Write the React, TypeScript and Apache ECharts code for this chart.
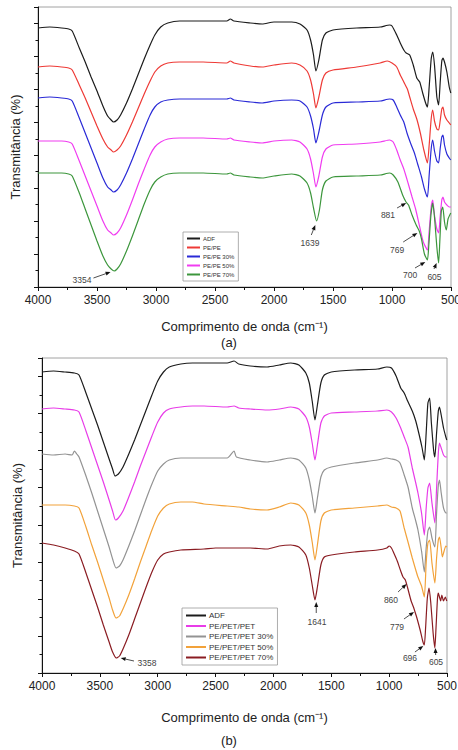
import React, { useEffect, useRef } from "react";
import * as echarts from "echarts";

type P = [number, number];

// ---------- Panel (a): transmittance (arbitrary units, offset curves) ----------
const adfA: P[] = [
  [4000, 259], [3900, 260], [3800, 259], [3740, 258], [3710, 256], [3650, 239], [3600, 225], [3550, 210],
  [3500, 196], [3450, 181], [3410, 171], [3380, 167], [3360, 165], [3330, 167], [3300, 172], [3250, 184],
  [3200, 198], [3150, 213], [3100, 228], [3050, 242], [3010, 252], [2960, 260], [2900, 264], [2800, 266],
  [2600, 266], [2400, 266], [2370, 268], [2340, 266], [2200, 264], [2100, 263], [2000, 265], [1850, 265],
  [1780, 263], [1720, 257], [1690, 247], [1665, 232], [1645, 216], [1620, 227], [1590, 247], [1560, 254],
  [1500, 257], [1300, 259], [1100, 260], [1020, 262], [1000, 261], [960, 252], [930, 244], [900, 237],
  [880, 234], [850, 232], [820, 222], [790, 209], [765, 205], [740, 194], [715, 184], [700, 180], [685, 200],
  [668, 228], [655, 235], [640, 222], [620, 190], [605, 182], [592, 204], [578, 226], [568, 229], [555, 225],
  [535, 215], [515, 200], [502, 194],
];
const pePeA: P[] = [
  [4000, 220], [3900, 221], [3800, 220], [3740, 219], [3710, 217], [3650, 202], [3600, 189], [3550, 175],
  [3500, 161], [3450, 148], [3410, 140], [3380, 137], [3360, 135], [3330, 137], [3300, 141], [3250, 152],
  [3200, 165], [3150, 179], [3100, 193], [3050, 206], [3010, 215], [2960, 221], [2900, 224], [2800, 225],
  [2600, 225], [2400, 224], [2370, 226], [2340, 224], [2200, 221], [2100, 220], [2000, 222], [1850, 224],
  [1780, 222], [1720, 216], [1690, 207], [1665, 193], [1645, 179], [1620, 190], [1590, 207], [1560, 214],
  [1500, 217], [1300, 220], [1100, 224], [1040, 226], [1000, 224], [960, 220], [930, 212], [900, 205],
  [870, 198], [850, 190], [820, 178], [790, 168], [760, 154], [730, 137], [700, 124], [685, 142], [668, 168],
  [655, 177], [640, 166], [620, 158], [605, 157], [592, 166], [578, 178], [568, 180], [555, 172], [535, 167],
  [515, 164], [502, 162],
];
const pePe30A: P[] = [
  [4000, 189], [3900, 190], [3800, 189], [3740, 188], [3710, 186], [3650, 169], [3600, 154], [3550, 139],
  [3500, 124], [3450, 109], [3410, 100], [3380, 97], [3360, 95], [3330, 97], [3300, 102], [3250, 114],
  [3200, 128], [3150, 143], [3100, 158], [3050, 172], [3010, 180], [2960, 185], [2900, 187], [2800, 188],
  [2600, 188], [2400, 188], [2370, 189], [2340, 187], [2200, 185], [2100, 184], [2000, 186], [1850, 187],
  [1780, 186], [1720, 180], [1690, 171], [1665, 158], [1645, 144], [1620, 155], [1590, 172], [1560, 180],
  [1500, 184], [1300, 185], [1100, 186], [1020, 188], [990, 187], [960, 180], [930, 172], [900, 165],
  [873, 154], [840, 143], [810, 134], [780, 122], [750, 110], [725, 98], [700, 90], [685, 112], [668, 138],
  [655, 147], [640, 136], [620, 126], [605, 124], [592, 138], [578, 150], [568, 152], [555, 142], [535, 133],
  [515, 129], [502, 127],
];
const pePe50A: P[] = [
  [4000, 146], [3900, 146], [3800, 146], [3740, 145], [3710, 143], [3650, 126], [3600, 111], [3550, 96],
  [3500, 81], [3450, 66], [3410, 57], [3380, 54], [3360, 52], [3330, 54], [3300, 59], [3250, 72],
  [3200, 87], [3150, 103], [3100, 118], [3050, 132], [3010, 140], [2960, 145], [2900, 148], [2800, 149],
  [2600, 149], [2400, 148], [2370, 149], [2340, 147], [2200, 145], [2100, 144], [2000, 146], [1850, 147],
  [1780, 145], [1720, 138], [1690, 128], [1665, 113], [1645, 100], [1620, 111], [1590, 130], [1560, 138],
  [1500, 142], [1300, 143], [1100, 145], [1020, 147], [990, 145], [960, 137], [930, 127], [900, 118],
  [864, 104], [830, 90], [800, 78], [765, 60], [735, 45], [700, 37], [685, 56], [668, 80], [655, 87],
  [640, 72], [620, 58], [605, 54], [592, 70], [578, 87], [568, 90], [555, 85], [535, 82], [515, 80], [502, 80],
];
const pePe70A: P[] = [
  [4000, 114], [3900, 114], [3800, 114], [3740, 113], [3710, 111], [3650, 94], [3600, 78], [3550, 62],
  [3500, 46], [3450, 31], [3410, 22], [3380, 18], [3354, 16], [3330, 18], [3300, 23], [3250, 36],
  [3200, 51], [3150, 67], [3100, 83], [3050, 97], [3010, 105], [2960, 110], [2900, 113], [2800, 114],
  [2600, 114], [2400, 113], [2370, 114], [2340, 112], [2200, 110], [2100, 109], [2000, 111], [1850, 113],
  [1780, 111], [1720, 104], [1690, 94], [1665, 79], [1639, 66], [1615, 77], [1590, 97], [1560, 106],
  [1500, 110], [1300, 111], [1100, 112], [1020, 114], [990, 112], [950, 105], [910, 92], [881, 85],
  [860, 82], [830, 72], [795, 62], [769, 56], [750, 48], [725, 33], [700, 27], [688, 42], [670, 72],
  [655, 84], [640, 70], [620, 40], [605, 24], [595, 45], [582, 76], [570, 80], [555, 65], [540, 57],
  [525, 68], [502, 74],
];

// ---------- Panel (b) ----------
const adfB: P[] = [
  [4000, 301], [3900, 302], [3800, 301], [3720, 300], [3680, 298], [3620, 280], [3570, 264], [3520, 248],
  [3470, 231], [3420, 214], [3390, 204], [3369, 197], [3340, 199], [3300, 206], [3250, 219], [3200, 233],
  [3150, 248], [3100, 263], [3050, 278], [3000, 292], [2950, 301], [2900, 306], [2800, 309], [2700, 310],
  [2600, 310], [2400, 310], [2340, 312], [2300, 309], [2200, 307], [2055, 306], [1950, 308], [1850, 310],
  [1780, 308], [1720, 300], [1690, 290], [1665, 272], [1641, 253], [1620, 268], [1590, 290], [1560, 298],
  [1500, 301], [1300, 303], [1100, 304], [1020, 306], [980, 305], [940, 297], [900, 285], [870, 280],
  [840, 272], [800, 262], [770, 252], [740, 238], [715, 225], [696, 213], [680, 240], [665, 270], [650, 275],
  [635, 250], [615, 222], [605, 216], [590, 240], [575, 262], [565, 266], [550, 258], [530, 245], [510, 236],
  [502, 233],
];
const petB: P[] = [
  [4000, 264], [3900, 265], [3800, 264], [3720, 263], [3680, 261], [3620, 242], [3570, 225], [3520, 208],
  [3470, 191], [3420, 173], [3390, 162], [3365, 153], [3340, 155], [3300, 162], [3250, 176], [3200, 191],
  [3150, 207], [3100, 222], [3050, 237], [3000, 251], [2950, 260], [2900, 264], [2800, 266], [2700, 267],
  [2600, 267], [2400, 266], [2340, 267], [2300, 265], [2200, 264], [2055, 263], [1950, 264], [1850, 266],
  [1780, 264], [1720, 256], [1690, 246], [1665, 230], [1641, 213], [1620, 228], [1590, 250], [1560, 257],
  [1500, 260], [1300, 261], [1100, 262], [1020, 263], [980, 261], [940, 255], [900, 245], [870, 236],
  [837, 226], [800, 205], [770, 190], [751, 180], [720, 160], [696, 138], [680, 165], [665, 185], [650, 190],
  [630, 170], [605, 150], [590, 185], [575, 220], [565, 230], [550, 225], [530, 218], [510, 216], [502, 216],
];
const pet30B: P[] = [
  [4000, 219], [3900, 218], [3800, 219], [3740, 218], [3720, 222], [3700, 219], [3680, 216], [3620, 197],
  [3570, 180], [3520, 162], [3470, 144], [3420, 126], [3390, 114], [3360, 105], [3330, 107], [3300, 113],
  [3250, 127], [3200, 142], [3150, 158], [3100, 174], [3050, 189], [3000, 202], [2950, 209], [2900, 213],
  [2800, 215], [2600, 215], [2400, 215], [2340, 222], [2320, 216], [2200, 213], [2055, 211], [1950, 213],
  [1850, 215], [1780, 213], [1720, 205], [1690, 193], [1665, 177], [1641, 160], [1620, 175], [1590, 196],
  [1560, 203], [1500, 206], [1300, 210], [1100, 213], [1020, 215], [980, 214], [940, 213], [906, 210],
  [870, 198], [837, 186], [800, 165], [770, 152], [751, 143], [720, 122], [696, 101], [680, 125], [665, 142],
  [650, 146], [630, 135], [605, 126], [590, 160], [575, 188], [565, 193], [550, 180], [530, 165], [510, 160],
  [502, 160],
];
const pet50B: P[] = [
  [4000, 168], [3900, 168], [3800, 168], [3720, 167], [3680, 165], [3620, 146], [3570, 128], [3520, 111],
  [3470, 93], [3420, 75], [3390, 63], [3360, 55], [3330, 57], [3300, 64], [3250, 78], [3200, 94],
  [3150, 111], [3100, 127], [3050, 143], [3000, 157], [2950, 165], [2900, 169], [2800, 171], [2700, 171],
  [2600, 169], [2400, 167], [2300, 166], [2200, 164], [2055, 163], [1950, 166], [1850, 170], [1780, 168],
  [1720, 160], [1690, 148], [1665, 131], [1641, 113], [1620, 128], [1590, 152], [1560, 160], [1500, 163],
  [1300, 165], [1100, 167], [1020, 168], [980, 166], [940, 165], [906, 162], [870, 145], [837, 131],
  [800, 115], [770, 103], [751, 96], [720, 87], [696, 76], [680, 110], [665, 130], [650, 133], [630, 110],
  [605, 90], [590, 115], [575, 133], [565, 136], [550, 125], [540, 116], [525, 122], [510, 127], [502, 126],
];
const pet70B: P[] = [
  [4000, 130], [3900, 128], [3800, 125], [3720, 122], [3680, 119], [3620, 100], [3570, 83], [3520, 66],
  [3470, 48], [3420, 31], [3390, 21], [3358, 15], [3330, 17], [3300, 24], [3250, 38], [3200, 54],
  [3150, 70], [3100, 86], [3050, 101], [3000, 113], [2950, 119], [2900, 121], [2800, 123], [2600, 124],
  [2500, 125], [2300, 125], [2200, 125], [2055, 124], [1950, 127], [1850, 128], [1780, 126], [1720, 118],
  [1690, 105], [1665, 88], [1641, 73], [1620, 86], [1590, 108], [1560, 116], [1500, 118], [1300, 121],
  [1100, 123], [1020, 125], [1000, 127], [980, 125], [960, 120], [930, 112], [900, 102], [880, 96],
  [860, 93], [840, 85], [810, 72], [790, 66], [779, 62], [760, 55], [730, 42], [710, 32], [696, 28],
  [685, 45], [670, 75], [655, 85], [640, 70], [620, 40], [605, 25], [595, 45], [582, 75], [575, 80],
  [565, 76], [555, 72], [545, 78], [530, 72], [515, 76], [502, 72],
];

const namesA = ["ADF", "PE/PE", "PE/PE 30%", "PE/PE 50%", "PE/PE 70%"];
const namesB = ["ADF", "PE/PET/PET", "PE/PET/PET 30%", "PE/PET/PET 50%", "PE/PET/PET 70%"];
const colorsA = ["#1c1c1c", "#ee3a36", "#2a2ad6", "#f03cf0", "#3c963c"];
const colorsB = ["#1c1c1c", "#e83ce8", "#939393", "#f2a23a", "#8a1c22"];
const dataA = [adfA, pePeA, pePe30A, pePe50A, pePe70A];
const dataB = [adfB, petB, pet30B, pet50B, pet70B];

// peak labels: [panel, label, text position, arrow start, arrow tip] in (wavenumber, a.u.)
const peakLabels: [number, string, P, P, P][] = [
  [0, "3354", [3627, 7], [3530, 9], [3385, 15]],
  [0, "1639", [1695, 44], [1684, 52], [1650, 62]],
  [0, "881", [1034, 72], [957, 79], [880, 84]],
  [0, "769", [957, 37], [905, 45], [785, 54]],
  [0, "700", [847, 12], [805, 19], [718, 25]],
  [0, "605", [640, 10], [644, 18], [622, 24]],
  [1, "3358", [3093, 10], [3205, 12], [3320, 15]],
  [1, "1641", [1623, 51], [1630, 60], [1630, 71]],
  [1, "860", [984, 73], [923, 81], [850, 89]],
  [1, "779", [932, 46], [872, 54], [785, 61]],
  [1, "696", [820, 15], [777, 21], [705, 27]],
  [1, "605", [595, 11], [598, 18], [600, 25]],
];

const FONT = "Liberation Sans, Arial, sans-serif";

function makeAxes(gridIndex: number, yMax: number, xNameGap: number, yNameGap: number) {
  const x = {
    type: "value",
    gridIndex,
    min: 500,
    max: 4000,
    interval: 500,
    inverse: true,
    name: "Comprimento de onda (cm⁻¹)",
    nameLocation: "middle",
    nameGap: xNameGap,
    nameTextStyle: { fontSize: 13, lineHeight: 14, color: "#222", fontFamily: FONT },
    axisLine: { show: true, onZero: false, lineStyle: { color: "#111", width: 1 } },
    axisTick: { show: true, length: 4, lineStyle: { color: "#111" } },
    minorTick: { show: true, splitNumber: 2, length: 3, lineStyle: { color: "#111" } },
    axisLabel: {
      fontSize: 12,
      color: "#222",
      margin: 7,
      fontFamily: FONT,
      formatter: (v: number) => String(v),
    },
    splitLine: { show: false },
  };
  const step = yMax / 17;
  const y = {
    type: "value",
    gridIndex,
    min: 0,
    max: yMax,
    interval: step * 2,
    name: "Transmitância (%)",
    nameLocation: "middle",
    nameGap: yNameGap,
    nameTextStyle: { fontSize: 13, color: "#222", fontFamily: FONT },
    axisLine: { show: true, onZero: false, lineStyle: { color: "#111", width: 1 } },
    axisTick: { show: true, length: 4, lineStyle: { color: "#111" } },
    minorTick: { show: true, splitNumber: 2, length: 2.5, lineStyle: { color: "#111" } },
    axisLabel: { show: false },
    splitLine: { show: false },
  };
  return { x, y };
}

export default function App() {
  const ref = useRef<HTMLDivElement>(null);

  useEffect(() => {
    if (!ref.current) return;
    const chart = echarts.init(ref.current, null, { renderer: "svg" });
    const a = makeAxes(0, 280, 32, 16);
    const b = makeAxes(1, 315, 37, 18);

    const series: any[] = [];
    dataA.forEach((d, i) =>
      series.push({
        type: "line",
        name: namesA[i],
        xAxisIndex: 0,
        yAxisIndex: 0,
        data: d,
        showSymbol: false,
        symbol: "none",
        smooth: 0.2,
        color: colorsA[i],
        lineStyle: { width: 1.2, color: colorsA[i] },
      })
    );
    dataB.forEach((d, i) =>
      series.push({
        type: "line",
        name: namesB[i],
        xAxisIndex: 1,
        yAxisIndex: 1,
        data: d,
        showSymbol: false,
        symbol: "none",
        smooth: 0.2,
        color: colorsB[i],
        lineStyle: { width: 1.2, color: colorsB[i] },
      })
    );

    const legendBase = {
      orient: "vertical",
      icon: "rect",
      backgroundColor: "#fff",
      borderColor: "#999",
      borderWidth: 0.8,
      borderRadius: 0,
      selectedMode: false,
    };

    chart.setOption({
      animation: false,
      backgroundColor: "#fff",
      grid: [
        {
          left: 38, top: 7, width: 413, height: 280, show: true, borderColor: "#8a8a8a", borderWidth: 0.8,
          backgroundColor: "#fff", containLabel: false, outerBoundsMode: "none",
        },
        {
          left: 42, top: 358, width: 405, height: 315, show: true, borderColor: "#8a8a8a", borderWidth: 0.8,
          backgroundColor: "#fff", containLabel: false, outerBoundsMode: "none",
        },
      ],
      xAxis: [a.x, b.x],
      yAxis: [a.y, b.y],
      legend: [
        {
          ...legendBase,
          data: namesA,
          left: 183,
          top: 232,
          itemWidth: 13,
          itemHeight: 2,
          itemGap: 2,
          padding: [3, 4, 3, 4],
          textStyle: { fontSize: 6, lineHeight: 7, color: "#333", fontFamily: FONT, padding: [0, 0, 0, -2] },
        },
        {
          ...legendBase,
          data: namesB,
          left: 182,
          top: 608,
          itemWidth: 20,
          itemHeight: 2,
          itemGap: 1.5,
          padding: [3, 4, 3, 4],
          textStyle: { fontSize: 8, lineHeight: 9, color: "#333", fontFamily: FONT, padding: [0, 0, 0, -2] },
        },
      ],
      series,
    });

    const graphic: any[] = [];
    peakLabels.forEach(([g, label, t, s, e]) => {
      const tp = chart.convertToPixel({ gridIndex: g }, t) as number[];
      const sp = chart.convertToPixel({ gridIndex: g }, s) as number[];
      const ep = chart.convertToPixel({ gridIndex: g }, e) as number[];
      graphic.push({
        type: "text",
        z: 100,
        style: {
          text: label,
          x: tp[0],
          y: tp[1],
          fill: "#444",
          font: `8.5px ${FONT}`,
          textAlign: "center",
          textVerticalAlign: "middle",
        },
      });
      const dx = ep[0] - sp[0];
      const dy = ep[1] - sp[1];
      const len = Math.sqrt(dx * dx + dy * dy) || 1;
      const ux = dx / len;
      const uy = dy / len;
      const hl = 5;
      const hw = 2;
      const bx = ep[0] - ux * hl;
      const by = ep[1] - uy * hl;
      graphic.push({
        type: "line",
        z: 100,
        shape: { x1: sp[0], y1: sp[1], x2: bx, y2: by },
        style: { stroke: "#222", lineWidth: 0.8 },
      });
      graphic.push({
        type: "polygon",
        z: 100,
        shape: {
          points: [
            [ep[0], ep[1]],
            [bx - uy * hw, by + ux * hw],
            [bx + uy * hw, by - ux * hw],
          ],
        },
        style: { fill: "#111" },
      });
    });
    graphic.push({
      type: "text",
      left: "center",
      top: 336,
      style: { text: "(a)", fill: "#222", font: `13px ${FONT}` },
    });
    graphic.push({
      type: "text",
      left: "center",
      top: 734,
      style: { text: "(b)", fill: "#222", font: `13px ${FONT}` },
    });
    chart.setOption({ graphic });

    return () => chart.dispose();
  }, []);

  return (
    <div
      ref={ref}
      style={{ position: "fixed", left: 0, top: 0, width: 458, height: 750, background: "#fff" }}
    />
  );
}
